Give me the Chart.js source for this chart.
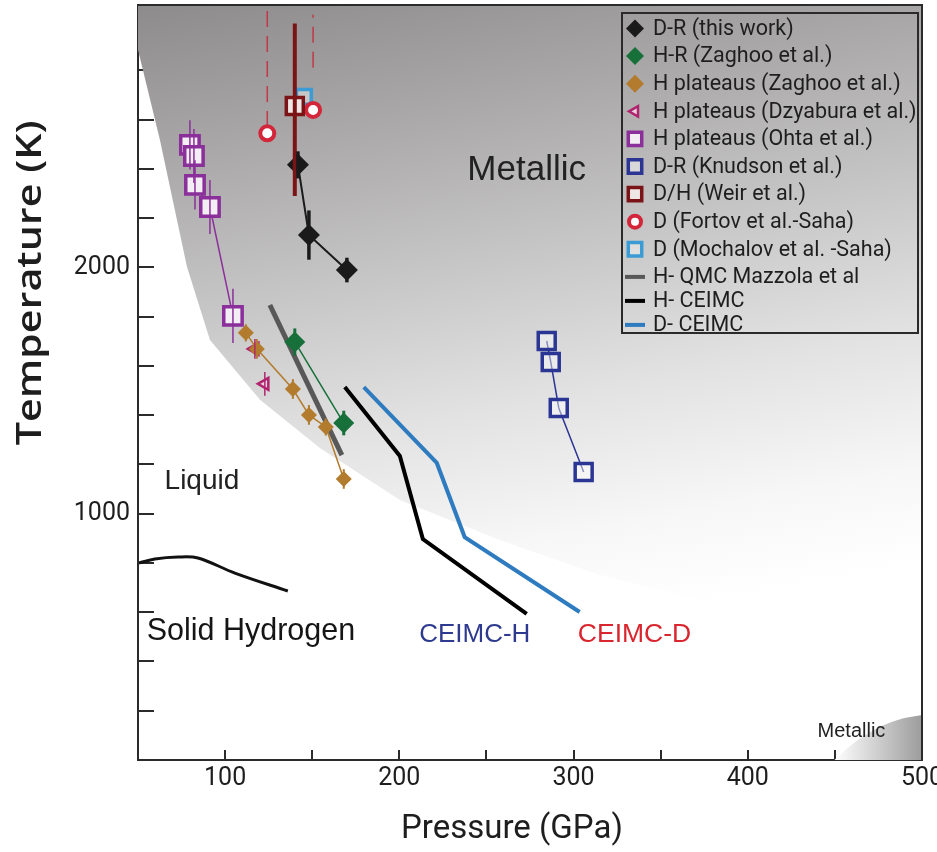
<!DOCTYPE html>
<html>
<head>
<meta charset="utf-8">
<title>Hydrogen / deuterium phase diagram</title>
<script src="https://cdn.jsdelivr.net/npm/chart.js@4.4.1/dist/chart.umd.min.js"></script>
<style>
  html, body { margin: 0; padding: 0; background: #fff; }
  #wrap { width: 937px; height: 852px; }
</style>
</head>
<body>
<div id="wrap"><canvas id="chart" width="937" height="852"></canvas></div>
<script>
// axis ticks
const xTickValues = [100, 200, 300, 400, 500];
const xTickLabels = ['100', '200', '300', '400', '500'];
const yTickValues = [1000, 2000];
const yTickLabels = ['1000', '2000'];

// D-R (this work)
const drP = [141.8, 148.1, 169.9];
const drT = [2416, 2131, 1989];
const drErr = [55, 100, 50];

// H-R (Zaghoo et al.)
const zagRP = [140.0, 168.1];
const zagRT = [1697, 1368];
const zagRErr = [55, 50];

// H plateaus (Zaghoo et al.)
const zagPP = [111.9, 118.2, 138.9, 148.1, 157.8, 168.1];
const zagPT = [1734, 1669, 1506, 1401, 1352, 1141];
const zagPErr = [35, 40, 40, 40, 35, 40];

// H plateaus (Dzyabura et al.)
const dzyP = [117.1, 122.8];
const dzyT = [1669, 1527];
const dzyErr = [40, 48];

// H plateaus (Ohta et al.)
const ohtaP = [79.8, 82.1, 82.7, 91.3, 104.5];
const ohtaT = [2497, 2452, 2335, 2245, 1803];
const ohtaErr = [100, 110, 100, 110, 110];

// D-R (Knudson et al.)
const knudP = [284.6, 286.9, 291.5, 305.8];
const knudT = [1701, 1616, 1429, 1169];

// D/H (Weir et al.)
const weirP = [140.0];
const weirT = [2655];
const weirLow = [2290];
const weirHigh = [2990];

// D (Fortov et al.-Saha), dashed bars above the points
const fortovP = [124.2, 150.5];
const fortovT = [2544, 2639];
const fortovLow = [2570, 2810];
const fortovHigh = [3053, 3025];

// D (Mochalov et al. -Saha)
const mochP = [145.2];
const mochT = [2692];

// model curves
const qmcP = [125.7, 167.0];
const qmcT = [1847, 1238];
const ceimcHP = [168.7, 200.3, 213.5, 273.1];
const ceimcHT = [1514, 1234, 897, 593];
const ceimcDP = [179.6, 221.5, 237.5, 303.5];
const ceimcDT = [1514, 1206, 905, 601];

// melting line
const meltP = [50.6, 59.7, 72.9, 84.4, 105.6, 136.0];
const meltT = [800, 816, 824, 820, 759, 686];

// metallic region boundary
const boundP = [50, 62.6, 78.1, 91.3, 120.0, 154.4, 200.3, 257.6, 315.0, 372.3, 429.7, 500];
const boundT = [2883, 2517, 2002, 1705, 1462, 1267, 1056, 893, 751, 650, 568, 508];

// solid metallic patch, bottom right
const patchP = [449.7, 462, 476, 490, 500];
const patchT = [0, 75, 135, 170, 183];

// text notes
const noteTexts = ['Metallic', 'Liquid', 'Solid Hydrogen', 'CEIMC-H', 'CEIMC-D', 'Metallic'];
const noteP = [273.1, 86.7, 114.8, 243.3, 335.0, 459.5];
const noteT = [2395, 1133, 520, 507, 507, 114];

const noteStyles = [
    { font: '35px "Liberation Sans"', color: '#222' },
    { font: '28px "Liberation Sans"', color: '#222' },
    { font: '30.5px "Liberation Sans"', color: '#151515' },
    { font: '26px "Liberation Sans"', color: '#2e3a8f' },
    { font: '26.5px "Liberation Sans"', color: '#d9262e' },
    { font: '20px "Liberation Sans"', color: '#222' }
];

const pts = (xs, ys) => xs.map((x, i) => ({ x, y: ys[i] }));

const markerSet = (label, xs, ys, style) => ({
    label,
    inLegend: true,
    data: pts(xs, ys),
    order: 2,
    ...style
});

const lineSet = (label, xs, ys, color, width) => ({
    label,
    inLegend: true,
    data: pts(xs, ys),
    showLine: true,
    borderColor: color,
    borderWidth: width,
    pointRadius: 0,
    tension: 0,
    order: 3
});

const errorBars = (xs, lows, highs, style) => xs.map((x, i) => ({
    data: [{ x, y: lows[i] }, { x, y: highs[i] }],
    showLine: true,
    pointRadius: 0,
    order: 1,
    ...style
}));

const symLow = (ys, errs) => ys.map((y, i) => y - errs[i]);
const symHigh = (ys, errs) => ys.map((y, i) => y + errs[i]);

const regionFill = (ctx) => {
    const chart = ctx.chart;
    const ca = chart.chartArea;
    if (!ca) return 'rgba(0,0,0,0)';
    const g = chart.ctx.createLinearGradient(ca.left, ca.top, ca.left + 140, ca.bottom);
    g.addColorStop(0, '#8d8b8b');
    g.addColorStop(0.2, '#a9a7a7');
    g.addColorStop(0.4, '#c6c5c5');
    g.addColorStop(0.6, '#e2e2e2');
    g.addColorStop(0.78, '#f7f7f7');
    g.addColorStop(0.9, '#ffffff');
    return g;
};

const patchFill = (ctx) => {
    const chart = ctx.chart;
    const ca = chart.chartArea;
    if (!ca) return 'rgba(0,0,0,0)';
    const x0 = chart.scales.x.getPixelForValue(patchP[0]);
    const g = chart.ctx.createLinearGradient(x0, 0, ca.right, 0);
    g.addColorStop(0, '#ffffff');
    g.addColorStop(1, '#9c9c9c');
    return g;
};

const datasets = [
    markerSet('D-R (this work)', drP, drT, {
        showLine: true, borderColor: '#1a1a1a', borderWidth: 2,
        pointStyle: 'rectRot', pointRadius: 11, pointBackgroundColor: '#1a1a1a',
        pointBorderColor: '#1a1a1a', pointBorderWidth: 0, legendRadius: 9
    }),
    markerSet('H-R (Zaghoo et al.)', zagRP, zagRT, {
        showLine: true, borderColor: '#17703a', borderWidth: 1.5,
        pointStyle: 'rectRot', pointRadius: 10.5, pointBackgroundColor: '#17703a',
        pointBorderColor: '#17703a', pointBorderWidth: 0, legendRadius: 9
    }),
    markerSet('H plateaus (Zaghoo et al.)', zagPP, zagPT, {
        showLine: true, borderColor: '#b27b2d', borderWidth: 1.5,
        pointStyle: 'rectRot', pointRadius: 8, pointBackgroundColor: '#b27b2d',
        pointBorderColor: '#b27b2d', pointBorderWidth: 0, legendRadius: 9
    }),
    markerSet('H plateaus (Dzyabura et al.)', dzyP, dzyT, {
        pointStyle: 'triangle', rotation: -90, pointRadius: 7, pointBackgroundColor: '#e9d3df',
        pointBorderColor: '#b0246e', pointBorderWidth: 2.5, legendRadius: 6
    }),
    markerSet('H plateaus (Ohta et al.)', ohtaP, ohtaT, {
        showLine: true, borderColor: '#8b2f9b', borderWidth: 1.5,
        pointStyle: 'rect', pointRadius: 13, pointBackgroundColor: '#f3eef3',
        pointBorderColor: '#8b2f9b', pointBorderWidth: 3.5, legendRadius: 9.5
    }),
    markerSet('D-R (Knudson et al.)', knudP, knudT, {
        showLine: true, borderColor: '#2b3593', borderWidth: 1.5,
        pointStyle: 'rect', pointRadius: 12, pointBackgroundColor: 'rgba(255,255,255,0.45)',
        pointBorderColor: '#2b3593', pointBorderWidth: 3.5, legendRadius: 9.5
    }),
    markerSet('D/H (Weir et al.)', weirP, weirT, {
        pointStyle: 'rect', pointRadius: 12, pointBackgroundColor: '#efe6e6',
        pointBorderColor: '#7b1416', pointBorderWidth: 3.5, legendRadius: 9.5
    }),
    markerSet('D (Fortov et al.-Saha)', fortovP, fortovT, {
        pointStyle: 'circle', pointRadius: 7, pointBackgroundColor: '#ffffff',
        pointBorderColor: '#d3263a', pointBorderWidth: 4, legendRadius: 6
    }),
    markerSet('D (Mochalov et al. -Saha)', mochP, mochT, {
        pointStyle: 'rect', pointRadius: 10.5, pointBackgroundColor: 'rgba(255,255,255,0.4)',
        pointBorderColor: '#3b9bd4', pointBorderWidth: 3.5, legendRadius: 9.5
    }),
    lineSet('H- QMC Mazzola et al', qmcP, qmcT, '#585858', 5),
    lineSet('H- CEIMC', ceimcHP, ceimcHT, '#000000', 4),
    lineSet('D- CEIMC', ceimcDP, ceimcDT, '#2f7bbf', 4),
    ...errorBars(drP, symLow(drT, drErr), symHigh(drT, drErr), { borderColor: '#1a1a1a', borderWidth: 3.5 }),
    ...errorBars(zagRP, symLow(zagRT, zagRErr), symHigh(zagRT, zagRErr), { borderColor: '#17703a', borderWidth: 3 }),
    ...errorBars(zagPP, symLow(zagPT, zagPErr), symHigh(zagPT, zagPErr), { borderColor: '#b27b2d', borderWidth: 2 }),
    ...errorBars(dzyP, symLow(dzyT, dzyErr), symHigh(dzyT, dzyErr), { borderColor: '#b0246e', borderWidth: 1.5 }),
    ...errorBars(ohtaP, symLow(ohtaT, ohtaErr), symHigh(ohtaT, ohtaErr), { borderColor: '#8b2f9b', borderWidth: 1.5 }),
    ...errorBars(weirP, weirLow, weirHigh, { borderColor: '#7b1416', borderWidth: 4 }),
    ...errorBars(fortovP, fortovLow, fortovHigh, { borderColor: 'rgba(200,40,60,0.85)', borderWidth: 1.5, borderDash: [16, 9] }),
    {
        data: pts(meltP, meltT), showLine: true, borderColor: '#111', borderWidth: 3,
        pointRadius: 0, tension: 0.35, order: 3
    },
    {
        data: pts(boundP, boundT), showLine: true, borderWidth: 0, borderColor: 'rgba(0,0,0,0)',
        pointRadius: 0, tension: 0, fill: 'end', backgroundColor: regionFill, order: 10
    },
    {
        data: pts(patchP, patchT), showLine: true, borderWidth: 0, borderColor: 'rgba(0,0,0,0)',
        pointRadius: 0, tension: 0.3, fill: 'start', backgroundColor: patchFill, order: 10
    }
];

const drawMarker = (ctx, ds, x, y) => {
    ctx.fillStyle = ds.pointBackgroundColor;
    ctx.strokeStyle = ds.pointBorderColor;
    ctx.lineWidth = ds.pointBorderWidth;
    Chart.helpers.drawPoint(ctx, {
        pointStyle: ds.pointStyle,
        rotation: ds.rotation || 0,
        radius: ds.legendRadius,
        borderWidth: ds.pointBorderWidth
    }, x, y);
};

const boxLegend = {
    id: 'boxLegend',
    afterDraw(chart) {
        const { ctx, chartArea: ca } = chart;
        const right = ca.right - 4;
        const top = ca.top + 8;
        const left = right - 296;
        const bottom = top + 320;
        ctx.save();
        ctx.strokeStyle = '#2a2a2a';
        ctx.lineWidth = 2;
        ctx.strokeRect(left, top, right - left, bottom - top);

        let y = top + 15.5;
        chart.data.datasets.filter(ds => ds.inLegend).forEach(ds => {
            const isLine = !ds.pointStyle;
            if (isLine) {
                ctx.strokeStyle = ds.borderColor;
                ctx.lineWidth = 4;
                ctx.beginPath();
                ctx.moveTo(left + 3, y);
                ctx.lineTo(left + 23, y);
                ctx.stroke();
            } else {
                drawMarker(ctx, ds, left + 13, y);
            }
            ctx.fillStyle = '#1e1e1e';
            ctx.font = '21.5px Roboto';
            ctx.textAlign = 'left';
            ctx.textBaseline = 'middle';
            ctx.fillText(ds.label, left + 31, y + 1);
            y += isLine ? 24 : 27.6;
        });
        ctx.restore();
    }
};

const notes = {
    id: 'notes',
    afterDatasetsDraw(chart) {
        const { ctx, scales } = chart;
        ctx.save();
        ctx.textAlign = 'center';
        ctx.textBaseline = 'middle';
        noteTexts.forEach((text, i) => {
            ctx.font = noteStyles[i].font;
            ctx.fillStyle = noteStyles[i].color;
            ctx.fillText(text, scales.x.getPixelForValue(noteP[i]), scales.y.getPixelForValue(noteT[i]));
        });
        ctx.restore();
    }
};

const frameAndTitles = {
    id: 'frameAndTitles',
    afterDraw(chart) {
        const { ctx, chartArea: ca } = chart;
        ctx.save();
        ctx.strokeStyle = '#2b2b2b';
        ctx.lineWidth = 2;
        ctx.beginPath();
        ctx.moveTo(ca.left, ca.top);
        ctx.lineTo(ca.right, ca.top);
        ctx.lineTo(ca.right, ca.bottom);
        ctx.stroke();

        ctx.fillStyle = '#1e1e1e';
        ctx.textAlign = 'center';
        ctx.textBaseline = 'middle';
        ctx.font = '33px Roboto';
        ctx.fillText('Pressure (GPa)', ca.left + (ca.right - ca.left) * 0.477, ca.bottom + 70);

        const yTitle = 'Temperature (K)';
        ctx.font = '600 34px "Open Sans"';
        const stretch = 325 / ctx.measureText(yTitle).width;
        ctx.translate(31, ca.top + (ca.bottom - ca.top) * 0.368);
        ctx.rotate(-Math.PI / 2);
        ctx.scale(stretch, 1);
        ctx.fillText(yTitle, 0, 0);
        ctx.restore();
    }
};

const tickFont = { family: 'Roboto', size: 25 };
const axisColor = '#2b2b2b';

new Chart(document.getElementById('chart'), {
    type: 'scatter',
    data: { datasets },
    options: {
        responsive: false,
        animation: false,
        events: [],
        layout: { autoPadding: false, padding: { top: 5, right: 15, left: 0, bottom: 0 } },
        plugins: {
            legend: { display: false },
            tooltip: { enabled: false }
        },
        scales: {
            x: {
                type: 'linear',
                min: 50,
                max: 500,
                border: { display: true, color: axisColor, width: 2 },
                grid: { drawOnChartArea: false, tickLength: -10, color: axisColor, lineWidth: 2 },
                ticks: {
                    stepSize: 50,
                    padding: 14,
                    autoSkip: false,
                    maxRotation: 0,
                    color: '#1e1e1e',
                    font: tickFont,
                    callback: v => xTickLabels[xTickValues.indexOf(v)] ?? ''
                },
                afterFit: s => { s.height = 92; s.paddingLeft = 0; s.paddingRight = 0; }
            },
            y: {
                type: 'linear',
                min: 0,
                max: 3065,
                border: { display: true, color: axisColor, width: 2 },
                grid: { drawOnChartArea: false, tickLength: -16, color: axisColor, lineWidth: 2 },
                ticks: {
                    stepSize: 200,
                    padding: 24,
                    autoSkip: false,
                    color: '#1e1e1e',
                    font: tickFont,
                    callback: v => yTickLabels[yTickValues.indexOf(v)] ?? ''
                },
                afterBuildTicks: s => { s.ticks = s.ticks.filter(t => t.value <= 2800); },
                afterFit: s => { s.width = 138; s.paddingTop = 0; s.paddingBottom = 0; }
            }
        }
    },
    plugins: [notes, boxLegend, frameAndTitles]
});
</script>
</body>
</html>
